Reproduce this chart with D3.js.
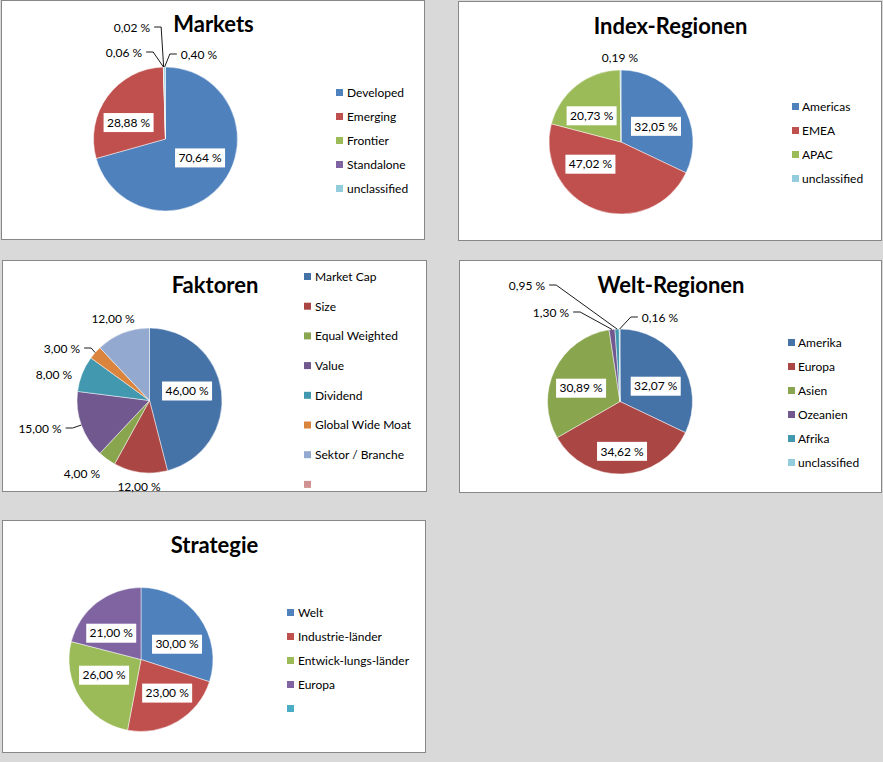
<!DOCTYPE html>
<html>
<head>
<meta charset="utf-8">
<script src="https://cdn.jsdelivr.net/npm/d3@7"></script>
<style>
    body { margin: 0; background: #d9d9d9; }
    svg { display: block; font-family: Lato, "DejaVu Sans", sans-serif; }
</style>
</head>
<body>
<svg id="chart" width="883" height="762"></svg>
<script>
// ---- data ----
const marketsNames = ['Developed', 'Emerging', 'Frontier', 'Standalone', 'unclassified']
const marketsValues = [70.64, 28.88, 0.06, 0.02, 0.40]

const indexNames = ['Americas', 'EMEA', 'APAC', 'unclassified']
const indexValues = [32.05, 47.02, 20.73, 0.19]

const faktorenNames = ['Market Cap', 'Size', 'Equal Weighted', 'Value', 'Dividend', 'Global Wide Moat', 'Sektor / Branche', '']
const faktorenValues = [46, 12, 4, 15, 8, 3, 12]

const weltNames = ['Amerika', 'Europa', 'Asien', 'Ozeanien', 'Afrika', 'unclassified']
const weltValues = [32.07, 34.62, 30.89, 1.30, 0.95, 0.16]

const strategieNames = ['Welt', 'Industrie-länder', 'Entwick-lungs-länder', 'Europa', '']
const strategieValues = [30, 23, 26, 21]

// ---- palettes ----
const OFFICE = ['#4f81bd', '#c0504d', '#9bbb59', '#8064a2', '#4bacc6', '#f79646']
const DARK = ['#4572a7', '#aa4643', '#89a54e', '#71588f', '#4198af', '#db843d', '#93a9cf', '#d19392']
const LIGHT_AQUA = '#93cddd'

const fmt = v => d3.format('.2f')(v).replace('.', ',') + ' %'

const svg = d3.select('#chart')

const drawPie = cfg => {
    const { box, title, titleY, cx, cy, r, names, values, colors, legend, layout } = cfg
    const g = svg.append('g')

    g.append('rect')
        .attr('x', box[0] + 0.5).attr('y', box[1] + 0.5)
        .attr('width', box[2]).attr('height', box[3])
        .attr('fill', '#fff').attr('stroke', '#878787').attr('stroke-width', 1)

    g.append('text')
        .attr('x', box[0] + box[2] / 2 + 1).attr('y', titleY)
        .attr('text-anchor', 'middle')
        .attr('font-size', 22).attr('font-weight', 'bold')
        .attr('fill', '#000')
        .text(title)

    const arcs = d3.pie().sort(null).value(d => d)(values)
    const arc = d3.arc().innerRadius(0).outerRadius(r)
    const labelArc = d3.arc().innerRadius(r * 0.55).outerRadius(r * 0.55)

    const gPie = g.append('g').attr('transform', `translate(${cx},${cy})`)
    gPie.selectAll('path')
        .data(arcs)
        .join('path')
        .attr('d', arc)
        .attr('fill', (d, i) => colors[i])
        .attr('stroke', '#fff').attr('stroke-opacity', 0.6).attr('stroke-width', 0.8)

    // data labels
    arcs.forEach((d, i) => {
        const lay = layout[i]
        const txt = fmt(values[i])
        if (lay.nudge) {
            const [x, y] = labelArc.centroid(d)
            const lx = x + lay.nudge[0], ly = y + lay.nudge[1]
            gPie.append('rect')
                .attr('x', lx - 25).attr('y', ly - 9.5)
                .attr('width', 50).attr('height', 19)
                .attr('fill', '#fff')
            gPie.append('text')
                .attr('x', lx).attr('y', ly).attr('dy', '0.35em')
                .attr('text-anchor', 'middle').attr('font-size', 12).attr('fill', '#000')
                .text(txt)
        } else {
            const [lx, ly] = lay.pos
            const t = gPie.append('text')
                .attr('x', lx).attr('y', ly).attr('dy', '0.35em')
                .attr('text-anchor', 'middle').attr('font-size', 12).attr('fill', '#000')
                .text(txt)
            if (lay.leader) {
                const w = t.node().getComputedTextLength()
                const mid = (d.startAngle + d.endAngle) / 2
                const ax = r * Math.sin(mid), ay = -r * Math.cos(mid)
                const side = lx < ax ? 1 : -1
                const sx = lx + side * (w / 2 + 4)
                const ey = ly - 1
                gPie.append('path')
                    .attr('d', d3.line()([[sx, ey], [sx + side * 7, ey], [ax, ay]]))
                    .attr('fill', 'none').attr('stroke', '#000').attr('stroke-width', 0.9)
            }
        }
    })

    // legend
    const gLeg = g.append('g').attr('transform', `translate(${legend.x},${legend.y})`)
    const items = gLeg.selectAll('g')
        .data(names)
        .join('g')
        .attr('transform', (d, i) => `translate(0,${i * legend.step})`)
    items.append('rect')
        .attr('width', 7).attr('height', 7)
        .attr('fill', (d, i) => colors[i])
    items.append('text')
        .attr('x', legend.gap).attr('y', 3.5).attr('dy', '0.36em')
        .attr('font-size', 12).attr('fill', '#000')
        .text(d => d)
}

drawPie({
    box: [1, 0, 423, 239], title: 'Markets', titleY: 32,
    cx: 165.5, cy: 139, r: 72,
    names: marketsNames, values: marketsValues,
    colors: [OFFICE[0], OFFICE[1], OFFICE[2], OFFICE[3], LIGHT_AQUA],
    legend: { x: 336, y: 89, step: 24, gap: 11 },
    layout: [
        { nudge: [3, -5] }, { nudge: [-5, 7] },
        { pos: [-41.5, -86], leader: true },
        { pos: [-33.5, -111], leader: true },
        { pos: [33.5, -84], leader: true }
    ]
})

drawPie({
    box: [458, 1, 423, 239], title: 'Index-Regionen', titleY: 34,
    cx: 621, cy: 142, r: 72,
    names: indexNames, values: indexValues,
    colors: [OFFICE[0], OFFICE[1], OFFICE[2], LIGHT_AQUA],
    legend: { x: 792, y: 103, step: 24, gap: 10 },
    layout: [
        { nudge: [1.5, 5.5] }, { nudge: [-17, -15] }, { nudge: [-5, 5] },
        { pos: [-1, -84], leader: false }
    ]
})

drawPie({
    box: [2, 260, 424, 231], title: 'Faktoren', titleY: 293,
    cx: 149.5, cy: 400.5, r: 72.5,
    names: faktorenNames, values: faktorenValues,
    colors: DARK,
    legend: { x: 304, y: 273, step: 29.7, gap: 11 },
    layout: [
        { nudge: [-2, -4.5] },
        { pos: [-10.5, 86.5], leader: false },
        { pos: [-67.5, 73.5], leader: false },
        { pos: [-109.5, 28.5], leader: true },
        { pos: [-95.5, -25.5], leader: false },
        { pos: [-87.5, -51.5], leader: true },
        { pos: [-36.5, -81.5], leader: false }
    ]
})

drawPie({
    box: [459, 260, 422, 232], title: 'Welt-Regionen', titleY: 293,
    cx: 620, cy: 401.5, r: 72.5,
    names: weltNames, values: weltValues,
    colors: [DARK[0], DARK[1], DARK[2], DARK[3], DARK[4], LIGHT_AQUA],
    legend: { x: 788, y: 339, step: 24, gap: 10 },
    layout: [
        { nudge: [2, 6] }, { nudge: [0.5, 10] }, { nudge: [-3, 4] },
        { pos: [-69, -88.5], leader: true },
        { pos: [-93, -115.5], leader: true },
        { pos: [40, -83.5], leader: true }
    ]
})

drawPie({
    box: [2, 520, 423, 232], title: 'Strategie', titleY: 553,
    cx: 141, cy: 659.5, r: 72,
    names: strategieNames, values: strategieValues,
    colors: OFFICE,
    legend: { x: 287, y: 609, step: 24, gap: 11 },
    layout: [
        { nudge: [4, 8] }, { nudge: [6, -0.5] }, { nudge: [-3.5, -5.5] }, { nudge: [-5.5, 5] }
    ]
})
</script>
</body>
</html>
